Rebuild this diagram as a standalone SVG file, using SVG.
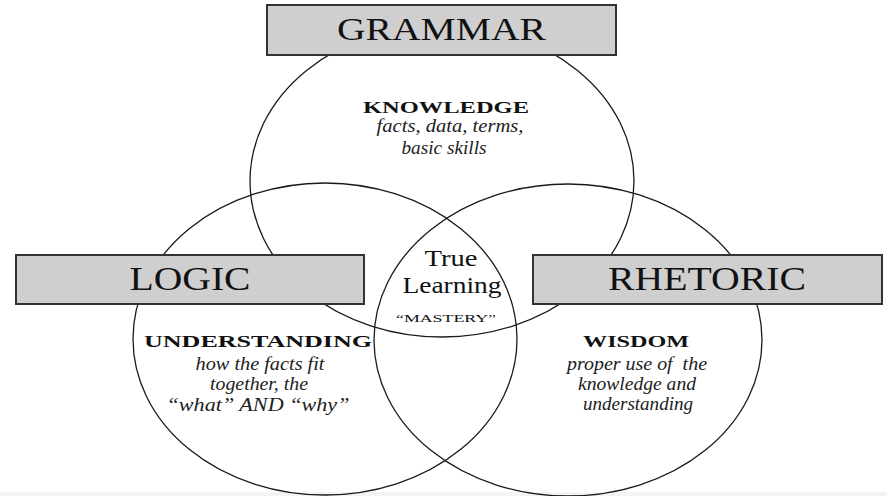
<svg xmlns="http://www.w3.org/2000/svg" width="887" height="496" viewBox="0 0 887 496">
<style>
.ring{fill:none;stroke:#1a1a1a;stroke-width:1.3}
.box{fill:#cfcfcf;stroke:#333;stroke-width:2}
.title{font-family:"Liberation Serif",serif;fill:#111;text-anchor:middle}
.head{font-family:"Liberation Serif",serif;font-weight:bold;font-size:16px;fill:#111;text-anchor:middle}
.it{font-family:"Liberation Serif",serif;font-style:italic;font-size:18px;fill:#222;text-anchor:middle}
.ctr{font-family:"Liberation Serif",serif;fill:#111;text-anchor:middle}
</style>
<rect x="0" y="0" width="887" height="496" fill="#fff"/>
<rect x="0" y="492" width="887" height="4" fill="#f4f4f4"/>
<g id="circles">
<ellipse id="circle-grammar" class="ring" cx="442" cy="181" rx="192" ry="156"/>
<ellipse id="circle-logic" class="ring" cx="325" cy="339" rx="192" ry="156"/>
<ellipse id="circle-rhetoric" class="ring" cx="568" cy="340" rx="194" ry="156"/>
</g>
<g id="grammar">
<rect class="box" x="267" y="5" width="349" height="50"/>
<text class="title" x="441.5" y="40" font-size="32" textLength="209" lengthAdjust="spacingAndGlyphs">GRAMMAR</text>
</g>
<g id="logic">
<rect class="box" x="16" y="255" width="348" height="49"/>
<text class="title" x="190" y="290" font-size="33" textLength="121" lengthAdjust="spacingAndGlyphs">LOGIC</text>
</g>
<g id="rhetoric">
<rect class="box" x="533" y="255" width="349" height="49"/>
<text class="title" x="707" y="290" font-size="33" textLength="198" lengthAdjust="spacingAndGlyphs">RHETORIC</text>
</g>
<g id="knowledge">
<text class="head" x="446" y="113" textLength="166" lengthAdjust="spacingAndGlyphs">KNOWLEDGE</text>
<text class="it" x="450" y="132" textLength="147" lengthAdjust="spacingAndGlyphs">facts, data, terms,</text>
<text class="it" x="444" y="154" textLength="85" lengthAdjust="spacingAndGlyphs">basic skills</text>
</g>
<g id="true-learning">
<text class="ctr" x="451" y="266" font-size="23" textLength="53" lengthAdjust="spacingAndGlyphs">True</text>
<text class="ctr" x="452" y="293" font-size="23" textLength="99" lengthAdjust="spacingAndGlyphs">Learning</text>
<text class="ctr" x="446" y="322" font-size="11" textLength="100" lengthAdjust="spacingAndGlyphs">“MASTERY”</text>
</g>
<g id="understanding">
<text class="head" x="258" y="347" textLength="228" lengthAdjust="spacingAndGlyphs">UNDERSTANDING</text>
<text class="it" x="260" y="370" textLength="129" lengthAdjust="spacingAndGlyphs">how the facts fit</text>
<text class="it" x="259" y="390" textLength="98" lengthAdjust="spacingAndGlyphs">together, the</text>
<text class="it" x="258" y="411" textLength="183" lengthAdjust="spacingAndGlyphs">“what” AND “why”</text>
</g>
<g id="wisdom">
<text class="head" x="636" y="347" textLength="106" lengthAdjust="spacingAndGlyphs">WISDOM</text>
<text class="it" x="637" y="370" textLength="140" lengthAdjust="spacingAndGlyphs" xml:space="preserve">proper use of  the</text>
<text class="it" x="637" y="390" textLength="118" lengthAdjust="spacingAndGlyphs">knowledge and</text>
<text class="it" x="638" y="410" textLength="110" lengthAdjust="spacingAndGlyphs">understanding</text>
</g>
</svg>
